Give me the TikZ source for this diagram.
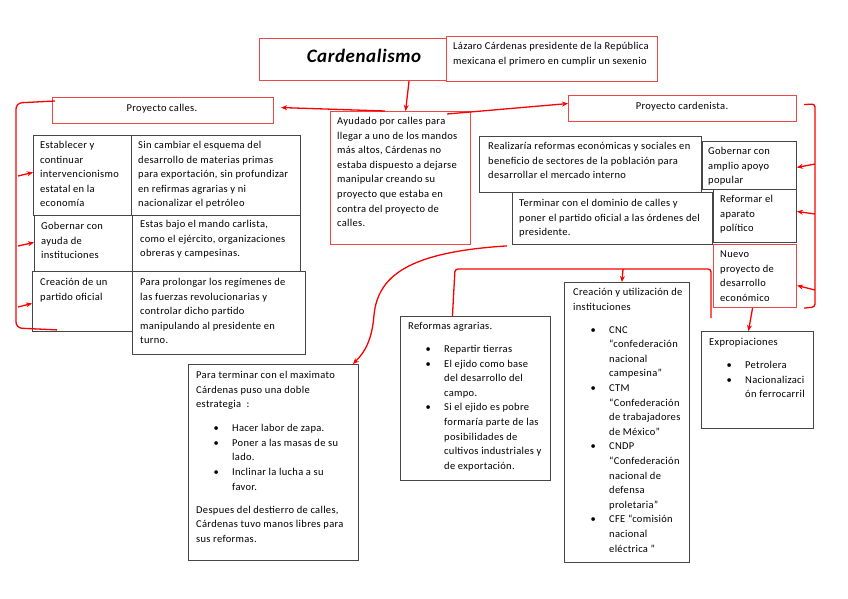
\documentclass[tikz,border=0pt]{standalone}
\usepackage{fontspec}
\setmainfont{Carlito}[LetterSpace=3.0]
\usetikzlibrary{arrows.meta,calc}
\definecolor{rbord}{RGB}{240,70,70}
\definecolor{gbord}{RGB}{70,70,70}
\definecolor{rline}{RGB}{250,0,0}
\newcommand\bi{\makebox[36pt][l]{\hspace{17.5pt}\textbullet}}
\newcommand\ind{\hspace*{36pt}}
\tikzset{
  rbox/.style={draw=rbord, line width=1.1pt, fill=white, anchor=north west, inner sep=0pt},
  gbox/.style={draw=gbord, line width=0.9pt, fill=white, anchor=north west, inner sep=0pt},
  txt/.style={anchor=north west, inner sep=0pt, align=left, font=\fontsize{10.5}{14.6}\selectfont},
  ctxt/.style={anchor=center, inner sep=0pt, font=\fontsize{10.5}{14.6}\selectfont},
  conn/.style={draw=rline, line width=1.3pt},
  arr/.style={conn, -{Stealth[length=6pt,width=5pt]}}
}
\begin{document}
\begin{tikzpicture}[x=1pt,y=-1pt]
\useasboundingbox (0,0) rectangle (848,599);
% top
\node[rbox, minimum width=189pt, minimum height=42pt] (cal) at (259,38) {};
\node[rbox, minimum width=211pt, minimum height=45pt] (laz) at (446,36) {};
\node[inner sep=0pt, font=\fontsize{19}{21}\selectfont\bfseries\itshape] (calt) at (364,56) {Cardenalismo};
\node[txt] (lazt) at (453,39) {\strut Lázaro Cárdenas presidente de la República\\mexicana el primero en cumplir un sexenio};
% projects
\node[rbox, minimum width=221pt, minimum height=26pt] (calles) at (52,97) {};
\node[ctxt] (callest) at (162,109) {Proyecto calles.};
\node[rbox, minimum width=228pt, minimum height=26pt] (card) at (568,95) {};
\node[ctxt] (cardt) at (682,107) {Proyecto cardenista.};
\node[rbox, minimum width=140pt, minimum height=133pt] (ayu) at (330,111) {};
\node[txt] (ayut) at (337,114) {\strut Ayudado por calles para\\llegar a uno de los mandos\\más altos, Cárdenas no\\estaba dispuesto a dejarse\\manipular creando su\\proyecto que estaba en\\contra del proyecto de\\calles.};
% left column
\node[gbox, minimum width=98pt, minimum height=80pt] (est) at (33,135) {};
\node[gbox, minimum width=169pt, minimum height=80pt] (sin) at (131,135) {};
\node[txt] (estt) at (40,138) {\strut Establecer y\\continuar\\intervencionismo\\estatal en la\\economía};
\node[txt] (sint) at (138,138) {\strut Sin cambiar el esquema del\\desarrollo de materias primas\\para exportación, sin profundizar\\en refirmas agrarias y ni\\nacionalizar el petróleo};
\node[gbox, minimum width=98pt, minimum height=56pt] (gob) at (34,215) {};
\node[gbox, minimum width=168pt, minimum height=56pt] (estas) at (132,215) {};
\node[txt] (gobt) at (41,219) {\strut Gobernar con\\ayuda de\\instituciones};
\node[txt] (estast) at (140,217) {\strut Estas bajo el mando carlista,\\como el ejército, organizaciones\\obreras y campesinas.};
\node[gbox, minimum width=100pt, minimum height=60pt] (crea) at (32,271) {};
\node[gbox, minimum width=173pt, minimum height=83pt] (para) at (132,271) {};
\node[txt] (creat) at (40,275) {\strut Creación de un\\partido oficial};
\node[txt] (parat) at (140,275) {\strut Para prolongar los regímenes de\\las fuerzas revolucionarias y\\controlar dicho partido\\manipulando al presidente en\\turno.};
% right column
\node[gbox, minimum width=94pt, minimum height=48pt] (gamp) at (702,141) {};
\node[gbox, minimum width=222pt, minimum height=56pt] (real) at (479,136) {};
\node[txt] (realt) at (488,139) {\strut Realizaría reformas económicas y sociales en\\beneficio de sectores de la población para\\desarrollar el mercado interno};
\node[txt] (gampt) at (708,144) {\strut Gobernar con\\amplio apoyo\\popular};
\node[gbox, minimum width=200pt, minimum height=52pt] (term) at (512,192) {};
\node[txt] (termt) at (519,196) {\strut Terminar con el dominio de calles y\\poner el partido oficial a las órdenes del\\presidente.};
\node[gbox, minimum width=83pt, minimum height=53pt] (refo) at (713,189) {};
\node[txt] (refot) at (720,192) {\strut Reformar el\\aparato\\político};
\node[rbox, minimum width=83pt, minimum height=63pt] (nuevo) at (713,244) {};
\node[txt] (nuevot) at (720,247) {\strut Nuevo\\proyecto de\\desarrollo\\económico};
% bottom
\node[gbox, minimum width=170pt, minimum height=196pt] (ptm) at (188,364) {};
\node[txt] (ptmt) at (196,368) {\strut Para terminar con el maximato\\Cárdenas puso una doble\\estrategia \ :\\[9.4pt]\bi Hacer labor de zapa.\\\bi Poner a las masas de su\\\ind lado.\\\bi Inclinar la lucha a su\\\ind favor.\\[8.4pt]Despues del destierro de calles,\\Cárdenas tuvo manos libres para\\sus reformas.};
\node[gbox, minimum width=150pt, minimum height=164pt] (rag) at (400,316) {};
\node[txt] (ragt) at (408,319) {\strut Reformas agrarias.\\[8.4pt]\bi Repartir tierras\\\bi El ejido como base\\\ind del desarrollo del\\\ind campo.\\\bi Si el ejido es pobre\\\ind formaría parte de las\\\ind posibilidades de\\\ind cultivos industriales y\\\ind de exportación.};
\node[gbox, minimum width=125pt, minimum height=280pt] (cyu) at (564,282) {};
\node[txt] (cyut) at (573,285) {\strut Creación y utilización de\\instituciones\\[8.4pt]\bi CNC\\\ind “confederación\\\ind nacional\\\ind campesina”\\\bi CTM\\\ind “Confederación\\\ind de trabajadores\\\ind de México”\\\bi CNDP\\\ind “Confederación\\\ind nacional de\\\ind defensa\\\ind proletaria”\\\bi CFE “comisión\\\ind nacional\\\ind eléctrica ”};
\node[gbox, minimum width=112pt, minimum height=97pt] (exp) at (701,331) {};
\node[txt] (expt) at (709,335) {\strut Expropiaciones\\[8.4pt]\bi Petrolera\\\bi Nacionalizaci\\\ind ón ferrocarril};
% connectors
\draw[arr] ([xshift=55pt]cal.south) -- ([xshift=5pt]ayu.north);
\draw[arr] ([xshift=55pt]ayu.north west) -- ([xshift=7pt,yshift=3pt]calles.east);
\draw[arr] ([xshift=117pt,yshift=-3pt]ayu.north west) -- ([yshift=5pt]card.west);
% left bracket
\coordinate (lb1) at ([xshift=3pt,yshift=-4pt]calles.north west);
\coordinate (lbend) at ([xshift=25pt,yshift=2pt]crea.south west);
\draw[conn, rounded corners=6pt] (lb1) -- (16,103) -- (16,328) -- (lbend);
\draw[arr] (18,176) -- ([yshift=3pt]est.west);
\draw[arr] (18,246) -- ([yshift=1pt]gob.west);
\draw[arr] (18,307) -- ([yshift=-2pt]crea.west);
% right bracket
\coordinate (rb1) at ([xshift=7pt,yshift=4pt]card.east);
\coordinate (rbend) at ([xshift=7pt]nuevo.south east);
\draw[conn, rounded corners=3pt] (rb1) -- (815,104) -- (815,307) -- (rbend);
\draw[arr] (815,164) -- ([yshift=-2pt]gamp.east);
\draw[arr] (815,214) -- ([yshift=4.5pt]refo.east);
\draw[arr] (815,290) -- ([yshift=-9.5pt]nuevo.east);
% lower connectors
\draw[arr] ([xshift=-2.5pt]nuevo.south) -- ([xshift=-9pt]exp.north);
\draw[arr] ([xshift=-5pt,yshift=-1pt]term.south west) .. controls (410,252) and (378,275) .. (374,315) .. controls (372,340) and (365,352) .. ([xshift=-6pt]ptm.north east);
\coordinate (fe) at (711,318);
\coordinate (br) at (623,269);
\draw[conn, rounded corners=3pt] (fe) -- (711,269) -- (455,269) -- ([xshift=-23pt]rag.north);
\draw[arr] (br) -- ([xshift=-5pt]cyu.north);
\end{tikzpicture}
\end{document}
